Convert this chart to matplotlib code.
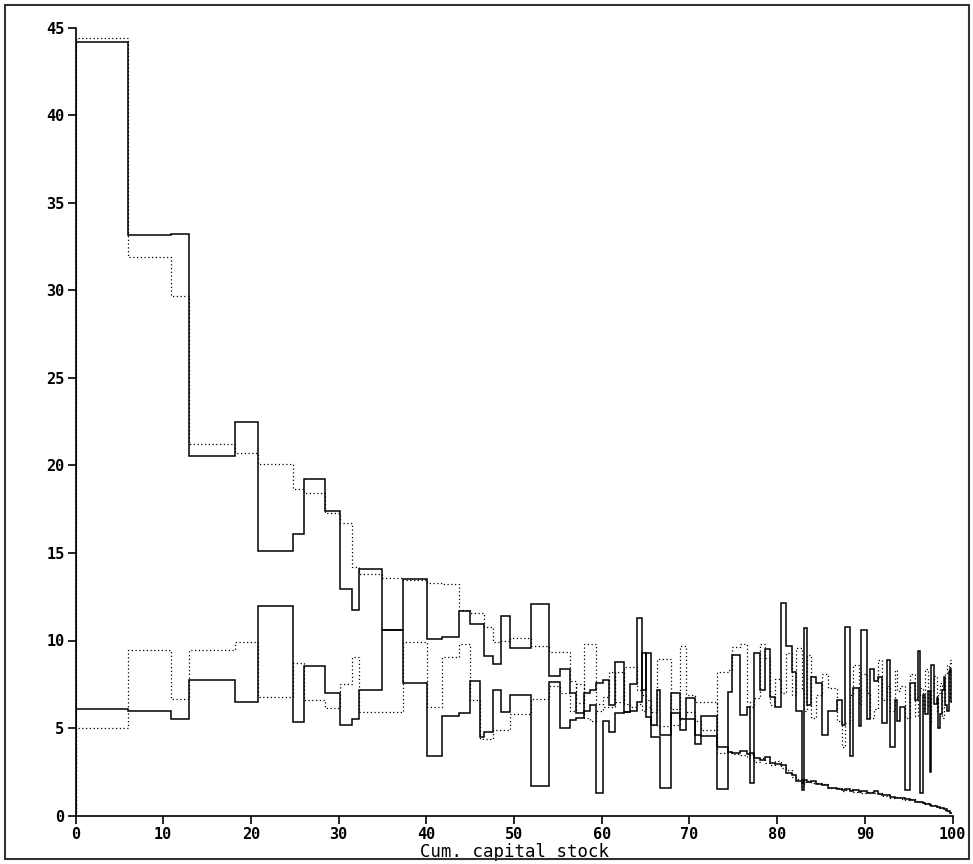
import matplotlib
matplotlib.use("Agg")
import matplotlib.pyplot as plt
from matplotlib.patches import Rectangle

# bin edges on the cumulative capital stock axis (percent)
cap_edges = [
    0, 6.0, 10.85, 12.95, 18.2, 20.8, 24.8, 26.1, 28.45, 30.15,
    31.55, 32.35, 34.95, 37.3, 40.1, 41.8, 43.7, 45.0, 46.1, 46.6,
    47.6, 48.5, 49.6, 51.9, 54.0, 55.3, 56.4, 57.1, 58.0, 58.7,
    59.4, 60.2, 60.8, 61.5, 62.5, 63.2, 64.0, 64.6, 65.0, 65.6,
    66.3, 66.65, 67.85, 68.9, 69.6, 70.6, 71.3, 73.2, 74.4,
    74.9, 75.8, 76.6, 76.9, 77.4, 78.0, 78.6, 79.2, 79.8, 80.5,
    81.0, 81.7, 82.2, 82.8, 83.05, 83.4, 83.9, 84.4, 85.1, 85.8,
    86.8, 87.4, 87.75, 88.3, 88.7, 89.3, 89.6,
    90.2, 90.6, 91.0, 91.5, 92.0, 92.5, 92.9, 93.4, 93.7, 94.0,
    94.6, 95.2, 95.7, 96.1, 96.35, 96.6, 96.9, 97.2, 97.4, 97.6,
    97.9, 98.2, 98.4, 98.6, 98.8, 99.0, 99.2, 99.35, 99.55, 99.7,
    99.85, 100,
]

upper_solid = [
    44.2, 33.15, 33.25, 20.55, 22.5, 15.1, 16.1, 19.2, 17.4, 12.95,
    11.75, 14.1, 10.6, 13.5, 10.1, 10.2, 11.7, 10.95, 10.95, 9.1,
    8.65, 11.4, 9.55, 12.1, 8.0, 8.4, 7.0, 5.85, 7.0, 7.2,
    7.6, 7.75, 6.3, 8.8, 5.9, 7.5, 11.3, 7.2, 9.3, 5.2,
    7.2, 4.6, 7.0, 4.9, 6.7, 4.1, 5.7, 3.9,
    3.65, 3.6, 3.7, 3.5, 3.6, 3.3, 3.2, 3.35, 3.0, 2.95,
    2.9, 2.45, 2.3, 1.95, 1.85, 2.05, 1.9, 1.95, 1.8, 1.75,
    1.6, 1.5, 1.45, 1.5, 1.4, 1.45, 1.35,
    1.4, 1.3, 1.3, 1.4, 1.25, 1.2, 1.15, 1.05, 1.0, 1.0,
    1.0, 0.95, 0.9, 0.8, 0.8, 0.75, 0.7, 0.65, 0.65, 0.6,
    0.55, 0.55, 0.5, 0.5, 0.42, 0.42, 0.35, 0.35, 0.25, 0.25,
    0.12, 0.12,
]

upper_dotted = [
    44.4, 31.9, 29.7, 21.25, 20.7, 20.1, 18.65, 18.45, 17.3, 16.7,
    14.2, 13.8, 13.55, 13.45, 13.3, 13.25, 11.75, 11.55, 11.55, 10.8,
    9.9, 10.0, 10.15, 9.7, 9.35, 9.35, 7.7, 6.45, 9.8, 9.8,
    6.4, 6.8, 8.2, 6.5, 8.5, 8.5, 7.2, 6.9, 6.2, 5.9,
    8.95, 8.95, 6.1, 9.7, 6.9, 6.5, 6.5, 3.6,
    3.6, 3.5, 3.45, 3.3, 3.5, 3.05, 3.3, 3.0, 2.9, 3.1,
    2.7, 2.6, 2.2, 2.1, 1.7, 1.9, 2.0, 1.85, 1.85, 1.8,
    1.55, 1.55, 1.4, 1.45, 1.5, 1.35, 1.4,
    1.3, 1.35, 1.35, 1.3, 1.3, 1.1, 1.2, 1.0, 1.05, 1.05,
    0.95, 0.9, 0.95, 0.85, 0.75, 0.8, 0.65, 0.7, 0.7, 0.55,
    0.6, 0.6, 0.45, 0.45, 0.45, 0.45, 0.3, 0.3, 0.28, 0.28,
    0.1, 0.1,
]

lower_solid = [
    6.1, 6.0, 5.5, 7.75, 6.5, 11.95, 5.35, 8.55, 7.0, 5.15,
    5.5, 7.2, 10.6, 7.6, 3.4, 5.7, 5.85, 7.7, 4.5, 4.8,
    7.2, 5.9, 6.9, 1.7, 7.65, 5.0, 5.45, 5.6, 6.0, 6.3,
    1.3, 5.4, 4.8, 5.85, 5.9, 6.0, 6.5, 9.3, 5.65, 4.5,
    4.5, 1.6, 5.85, 5.5, 5.5, 4.6, 4.55, 1.5,
    7.05, 9.2, 5.75, 6.2, 1.85, 9.3, 7.2, 9.5, 6.8, 6.2,
    12.15, 9.7, 8.2, 6.0, 1.45, 10.7, 6.3, 7.9, 7.6, 4.6,
    6.0, 6.6, 5.2, 10.8, 3.4, 7.3, 5.1,
    10.6, 5.5, 8.4, 7.7, 7.9, 5.3, 8.9, 3.9, 6.6, 5.4,
    6.2, 1.45, 7.6, 6.6, 9.4, 1.3, 6.9, 5.8, 7.1, 2.5,
    8.6, 6.4, 6.7, 5.0, 5.8, 7.2, 7.9, 6.3, 6.0, 8.2,
    8.4, 6.5,
]

lower_dotted = [
    5.0, 9.45, 6.65, 9.45, 9.9, 6.8, 8.7, 6.6, 6.15, 7.5,
    9.05, 5.9, 5.9, 9.9, 6.2, 9.05, 9.8, 6.6, 4.4, 4.4,
    4.9, 4.9, 5.8, 6.65, 7.4, 7.0, 6.0, 7.5, 5.6, 5.4,
    6.0, 6.2, 6.2, 8.2, 6.4, 6.2, 6.4, 6.0, 6.6, 5.2,
    5.1, 5.1, 5.2, 5.6, 5.9, 5.4, 4.9, 8.2,
    8.3, 9.65, 9.8, 6.5, 6.2, 6.7, 9.8, 9.0, 6.3, 7.8,
    7.0, 9.3, 6.9, 9.6, 7.2, 6.0, 9.2, 5.6, 6.9, 8.1,
    7.3, 5.4, 3.9, 5.3, 6.9, 8.6, 6.4,
    8.1, 7.0, 5.6, 6.1, 8.9, 6.6, 7.4, 6.0, 8.3, 7.1,
    7.4, 5.6, 8.1, 5.7, 6.9, 7.3, 6.0, 8.4, 6.2, 5.3,
    7.2, 8.0, 5.9, 7.0, 7.6, 5.6, 6.3, 8.1, 8.6, 6.6,
    8.9, 8.7,
]

x_ticks = list(range(0, 101, 10))
y_ticks = list(range(0, 46, 5))

W, H = 973, 864
fig = plt.figure(figsize=(W / 100, H / 100), dpi=100)
ax = fig.add_axes([75.5 / W, 48.5 / H, 877 / W, 787.5 / H])

dots = (0, (1, 2))
for vals in (upper_dotted, lower_dotted):
    ax.stairs(vals, cap_edges, baseline=0, color="black", lw=0.9, linestyle=dots)
for vals in (upper_solid, lower_solid):
    ax.stairs(vals, cap_edges, baseline=0, color="black", lw=1.1)

ax.set_xlim(0, 100)
ax.set_ylim(0, 45)
ax.spines["top"].set_visible(False)
ax.spines["right"].set_visible(False)
for side in ("left", "bottom"):
    ax.spines[side].set_linewidth(1.2)

tick_font = dict(family="DejaVu Sans Mono", weight="bold", size=11)
ax.set_xticks(x_ticks)
ax.set_yticks(y_ticks)
ax.set_xticklabels([str(v) for v in x_ticks], fontdict=tick_font)
ax.set_yticklabels([str(v) for v in y_ticks], fontdict=tick_font)
ax.tick_params(direction="out", length=6, width=1.2, pad=2)

ax.set_xlabel("Cum. capital stock", family="DejaVu Sans Mono", size=12.5, labelpad=1)

# thin frame round the whole page
fig.patches.append(Rectangle((5 / W, 5 / H), 964 / W, 854 / H, transform=fig.transFigure,
                             fill=False, edgecolor="#333333", lw=1.5))

fig.savefig("out.png", dpi=100)
